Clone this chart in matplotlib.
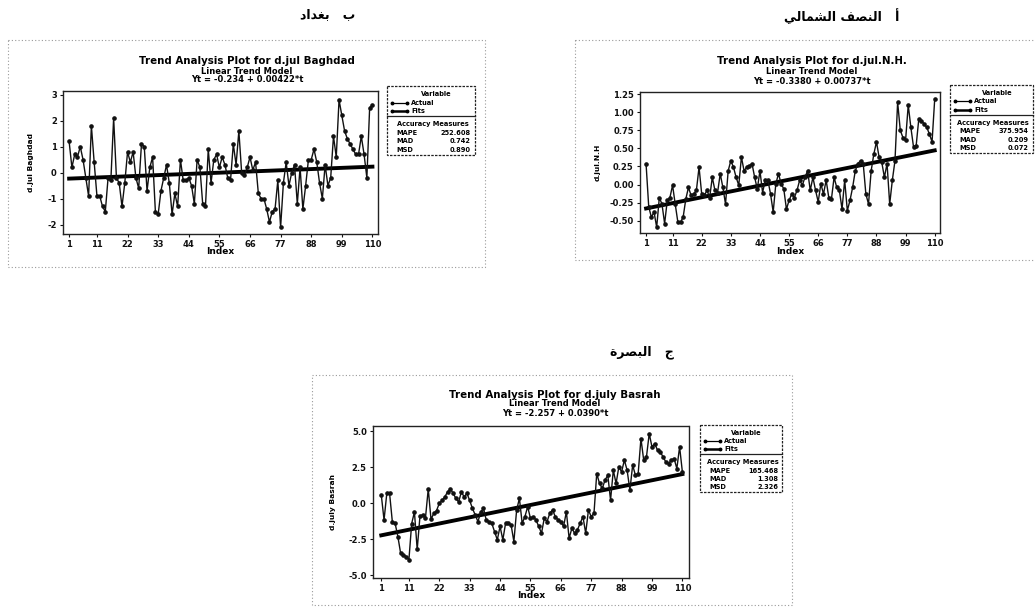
import matplotlib
matplotlib.use("Agg")
import matplotlib.pyplot as plt
from matplotlib.patches import Rectangle

plt.rcParams['font.family'] = ['DejaVu Sans']

W, H = 1035, 611

# ---- data ----
idx = list(range(1, 111))
xticks = [1, 11, 22, 33, 44, 55, 66, 77, 88, 99, 110]

baghdad = [1.2, 0.2, 0.7, 0.6, 1.0, 0.5, -0.2, -0.9, 1.8, 0.4,
           -0.9, -0.9, -1.3, -1.5, -0.2, -0.3, 2.1, -0.2, -0.4, -1.3,
           -0.4, 0.8, 0.4, 0.8, -0.2, -0.6, 1.1, 1.0, -0.7, 0.2,
           0.6, -1.5, -1.6, -0.7, -0.2, 0.3, -0.4, -1.6, -0.8, -1.3,
           0.5, -0.3, -0.3, -0.2, -0.5, -1.2, 0.5, 0.2, -1.2, -1.3,
           0.9, -0.4, 0.5, 0.7, 0.2, 0.6, 0.3, -0.2, -0.3, 1.1,
           0.3, 1.6, 0.0, -0.1, 0.2, 0.6, 0.1, 0.4, -0.8, -1.0,
           -1.0, -1.4, -1.9, -1.5, -1.4, -0.3, -2.1, -0.4, 0.4, -0.5,
           0.0, 0.3, -1.2, 0.2, -1.4, -0.5, 0.5, 0.5, 0.9, 0.4,
           -0.4, -1.0, 0.3, -0.5, -0.2, 1.4, 0.6, 2.8, 2.2, 1.6,
           1.3, 1.1, 0.9, 0.7, 0.7, 1.4, 0.7, -0.2, 2.5, 2.6]

nh = [0.28, -0.31, -0.45, -0.38, -0.59, -0.18, -0.27, -0.54, -0.22, -0.18,
      -0.01, -0.27, -0.52, -0.52, -0.45, -0.2, -0.04, -0.15, -0.13, -0.08,
      0.24, -0.13, -0.15, -0.08, -0.18, 0.1, -0.08, -0.11, 0.15, -0.04,
      -0.27, 0.19, 0.33, 0.24, 0.1, -0.01, 0.38, 0.19, 0.24, 0.26,
      0.29, 0.1, -0.06, 0.19, -0.11, 0.06, 0.06, -0.13, -0.38, 0.01,
      0.15, 0.01, -0.06, -0.34, -0.22, -0.13, -0.18, -0.08, 0.06, -0.01,
      0.1, 0.19, -0.08, 0.1, -0.08, -0.24, 0.01, -0.13, 0.06, -0.18,
      -0.2, 0.1, -0.04, -0.08, -0.34, 0.06, -0.36, -0.22, -0.04, 0.19,
      0.29, 0.33, 0.29, -0.13, -0.27, 0.19, 0.42, 0.59, 0.38, 0.31,
      0.1, 0.29, -0.27, 0.06, 0.33, 1.14, 0.75, 0.65, 0.61, 1.1,
      0.79, 0.52, 0.54, 0.91, 0.88, 0.84, 0.79, 0.7, 0.59, 1.18]

basrah = [0.58, -1.15, 0.7, 0.7, -1.27, -1.38, -2.3, -3.46, -3.57, -3.69,
          -3.92, -1.4, -0.6, -3.2, -0.9, -0.8, -1.0, 1.0, -1.1, -0.7,
          -0.5, 0.0, 0.2, 0.45, 0.8, 1.0, 0.7, 0.35, 0.1, 0.8,
          0.45, 0.7, 0.2, -0.35, -0.8, -1.27, -0.6, -0.35, -1.15, -1.27,
          -1.38, -1.96, -2.53, -1.6, -2.53, -1.38, -1.38, -1.5, -2.65, -0.46,
          0.35, -1.38, -0.92, -0.23, -1.04, -0.92, -1.15, -1.6, -2.07, -1.04,
          -1.27, -0.69, -0.46, -0.92, -1.15, -1.27, -1.6, -0.58, -2.42, -1.73,
          -2.07, -1.84, -1.38, -0.92, -2.07, -0.46, -0.92, -0.69, 2.07, 1.38,
          1.04, 1.61, 1.96, 0.23, 2.3, 1.38, 2.53, 2.19, 3.0, 2.3,
          0.92, 2.65, 1.96, 2.07, 4.5, 3.0, 3.23, 4.84, 3.92, 4.15,
          3.69, 3.57, 3.23, 2.88, 2.76, 3.0, 3.11, 2.42, 3.92, 2.19]

# trend model coefficients (from the plot titles)
coef_baghdad = (-0.234, 0.00422)
coef_nh = (-0.3380, 0.00737)
coef_basrah = (-2.257, 0.0390)

acc_baghdad = [('MAPE', '252.608'), ('MAD', '0.742'), ('MSD', '0.890')]
acc_nh = [('MAPE', '375.954'), ('MAD', '0.209'), ('MSD', '0.072')]
acc_basrah = [('MAPE', '165.468'), ('MAD', '1.308'), ('MSD', '2.326')]

lab_nh = 'أ   النصف الشمالي'
lab_baghdad = 'ب   بغداد'
lab_basrah = 'ج   البصرة'

# ---- minimal arabic shaping (presentation forms) ----
FORMS = {  # isolated, final, initial, medial
    'ا': ('\uFE8D', '\uFE8E', None, None),
    'أ': ('\uFE83', '\uFE84', None, None),
    'ب': ('\uFE8F', '\uFE90', '\uFE91', '\uFE92'),
    'ة': ('\uFE93', '\uFE94', None, None),
    'ج': ('\uFE9D', '\uFE9E', '\uFE9F', '\uFEA0'),
    'د': ('\uFEA9', '\uFEAA', None, None),
    'ر': ('\uFEAD', '\uFEAE', None, None),
    'ش': ('\uFEB5', '\uFEB6', '\uFEB7', '\uFEB8'),
    'ص': ('\uFEB9', '\uFEBA', '\uFEBB', '\uFEBC'),
    'غ': ('\uFECD', '\uFECE', '\uFECF', '\uFED0'),
    'ف': ('\uFED1', '\uFED2', '\uFED3', '\uFED4'),
    'ل': ('\uFEDD', '\uFEDE', '\uFEDF', '\uFEE0'),
    'م': ('\uFEE1', '\uFEE2', '\uFEE3', '\uFEE4'),
    'ن': ('\uFEE5', '\uFEE6', '\uFEE7', '\uFEE8'),
    'ي': ('\uFEF1', '\uFEF2', '\uFEF3', '\uFEF4'),
}


def shape_ar(s):
    out = []
    for i, c in enumerate(s):
        if c not in FORMS:
            out.append(c)
            continue
        prev = s[i - 1] if i > 0 else ''
        nxt = s[i + 1] if i + 1 < len(s) else ''
        jp = prev in FORMS and FORMS[prev][2] is not None
        jn = FORMS[c][2] is not None and nxt in FORMS
        if jp and jn:
            out.append(FORMS[c][3])
        elif jp:
            out.append(FORMS[c][1])
        elif jn:
            out.append(FORMS[c][2])
        else:
            out.append(FORMS[c][0])
    return ''.join(out[::-1])


def rect(l, t, r, b):
    return [l / W, 1 - b / H, (r - l) / W, (b - t) / H]


fig = plt.figure(figsize=(W / 100, H / 100), dpi=100)
bg = fig.add_axes([0, 0, 1, 1])
bg.set_xlim(0, W)
bg.set_ylim(H, 0)
bg.axis('off')


def panel(outer, axr, legr, tx, ty, title, eq, ylab, ylx, xly, y, coef,
          yt, ytl, ylim, xlim, acc):
    l, t, r, b = outer
    bg.add_patch(Rectangle((l, t), r - l, b - t, fill=False, ec='#9a9a9a',
                           lw=0.8, ls=(0, (1, 2))))
    bg.text(tx, ty[0], title, ha='center', va='center', fontsize=7.4,
            fontweight='bold')
    bg.text(tx, ty[1], 'Linear Trend Model', ha='center', va='center',
            fontsize=6.0, fontweight='bold')
    bg.text(tx, ty[2], eq, ha='center', va='center', fontsize=6.0,
            fontweight='bold')
    bg.text(ylx, (axr[1] + axr[3]) / 2, ylab, rotation=90, ha='center',
            va='center', fontsize=5.4, fontweight='bold')
    bg.text((axr[0] + axr[2]) / 2, xly, 'Index', ha='center', va='center',
            fontsize=6.5, fontweight='bold')

    ax = fig.add_axes(rect(*axr))
    a, s = coef
    fits = [a + s * i for i in idx]
    ax.plot(idx, fits, color='black', lw=2.8, zorder=2)
    ax.plot(idx, y, color='#111111', lw=1.0, marker='o', ms=2.3, zorder=3)
    ax.set_xlim(*xlim)
    ax.set_ylim(*ylim)
    ax.set_xticks(xticks)
    ax.set_yticks(yt)
    ax.set_yticklabels(ytl)
    ax.tick_params(labelsize=6.0, length=2.5, width=0.8, pad=2,
                   colors='#111111')
    for lab in ax.get_xticklabels() + ax.get_yticklabels():
        lab.set_fontweight('bold')
    for sp in ax.spines.values():
        sp.set_color('#222222')
        sp.set_linewidth(1.0)
    ax.spines['top'].set_linestyle((0, (2, 1)))

    # legend box
    gl, gt, gr, gb = legr
    gm = gt + (gb - gt) * 0.44
    bg.add_patch(Rectangle((gl, gt), gr - gl, gb - gt, fill=False,
                           ec='#222222', lw=0.9, ls=(0, (2, 1))))
    bg.plot([gl, gr], [gm, gm], color='#222222', lw=0.9)
    cx = gl + (gr - gl) * 0.52
    h1 = gm - gt
    bg.text(cx + 4, gt + h1 * 0.27, 'Variable', ha='center', va='center',
            fontsize=4.8, fontweight='bold')
    for k, name in enumerate(['Actual', 'Fits']):
        yy = gt + h1 * (0.55 + 0.27 * k)
        bg.plot([gl + 5, gl + 20], [yy, yy], color='black',
                lw=0.9 if k == 0 else 1.8, marker='o', ms=1.8)
        bg.text(gl + 24, yy, name, ha='left', va='center', fontsize=4.8,
                fontweight='bold')
    h2 = gb - gm
    bg.text(cx, gm + h2 * 0.2, 'Accuracy Measures', ha='center',
            va='center', fontsize=4.8, fontweight='bold')
    for k, (nm, val) in enumerate(acc):
        yy = gm + h2 * (0.43 + 0.22 * k)
        bg.text(gl + 9, yy, nm, ha='left', va='center', fontsize=4.8,
                fontweight='bold')
        bg.text(gr - 4, yy, val, ha='right', va='center', fontsize=4.8,
                fontweight='bold')
    return ax


panel((8, 40, 485, 267), (63, 91, 378, 234), (387, 86, 475, 155),
      247, (61, 71, 80), 'Trend Analysis Plot for d.jul Baghdad',
      'Yt = -0.234 + 0.00422*t', 'd.jul Baghdad', 31, 252,
      baghdad, coef_baghdad, [-2, -1, 0, 1, 2, 3],
      ['-2', '-1', '0', '1', '2', '3'], (-2.36, 3.14), (-1.2, 112), acc_baghdad)

panel((575, 40, 1040, 260), (640, 92, 940, 233), (950, 85, 1033, 153),
      812, (61, 72, 81), 'Trend Analysis Plot for d.jul.N.H.',
      'Yt = -0.3380 + 0.00737*t', 'd.jul.N.H', 598, 251,
      nh, coef_nh, [-0.5, -0.25, 0, 0.25, 0.5, 0.75, 1.0, 1.25],
      ['-0.50', '-0.25', '0.00', '0.25', '0.50', '0.75', '1.00', '1.25'],
      (-0.67, 1.28), (-1.3, 112), acc_nh)

panel((312, 375, 792, 605), (373, 426, 689, 578), (700, 425, 782, 492),
      555, (395, 404, 413), 'Trend Analysis Plot for d.july Basrah',
      'Yt = -2.257 + 0.0390*t', 'd.july Basrah', 333, 596,
      basrah, coef_basrah, [-5, -2.5, 0, 2.5, 5],
      ['-5.0', '-2.5', '0.0', '2.5', '5.0'], (-5.18, 5.37), (-2, 112.4),
      acc_basrah)

# arabic panel captions
bg.text(842, 16, shape_ar(lab_nh), ha='center', va='center', fontsize=9,
        fontweight='bold')
bg.text(328, 15, shape_ar(lab_baghdad), ha='center', va='center',
        fontsize=9, fontweight='bold')
bg.text(642, 352, shape_ar(lab_basrah), ha='center', va='center',
        fontsize=9, fontweight='bold')

fig.savefig('out.png', dpi=100)
